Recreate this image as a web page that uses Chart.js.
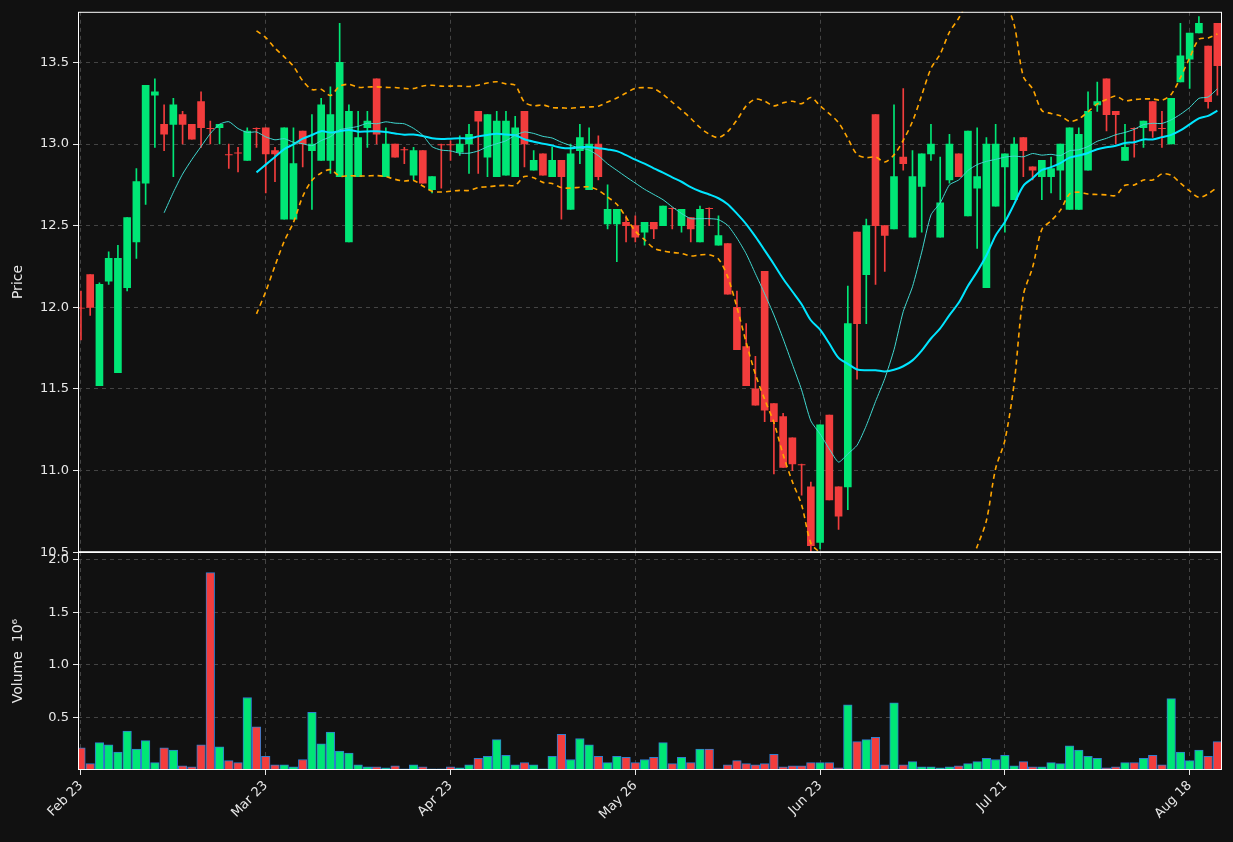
<!DOCTYPE html>
<html>
<head>
<meta charset="utf-8">
<script src="https://cdn.jsdelivr.net/npm/chart.js@4/dist/chart.umd.min.js"></script>
<style>
  html, body { margin: 0; padding: 0; background: #111111; overflow: hidden; }
  #wrap { position: relative; width: 1233px; height: 842px; }
</style>
</head>
<body>
<div id="wrap">
  <div style="position:absolute;left:0;top:0;width:1233px;height:564px"><canvas id="priceCanvas"></canvas></div>
  <div style="position:absolute;left:0;top:540px;width:1233px;height:302px"><canvas id="volCanvas"></canvas></div>
</div>
<script>
const tickIndex = [0, 20, 40, 60, 80, 100, 120];
const tickLabels = ['Feb 23', 'Mar 23', 'Apr 23', 'May 26', 'Jun 23', 'Jul 21', 'Aug 18'];

const opens = [12.00,12.20,11.52,12.16,11.60,12.12,12.40,12.76,13.30,13.12,13.12,13.18,13.12,13.26,13.10,13.10,12.94,12.95,12.90,13.10,
  13.10,12.96,12.54,12.54,13.08,12.96,12.90,12.90,12.80,12.40,12.80,13.10,13.40,12.80,13.00,12.97,12.81,12.96,12.72,13.00,
  13.00,12.95,13.00,13.20,12.92,12.80,12.81,12.80,13.20,12.84,12.94,12.80,12.90,12.60,12.96,12.72,13.00,12.51,12.51,12.52,
  12.50,12.46,12.52,12.50,12.61,12.50,12.55,12.40,12.61,12.38,12.39,12.00,11.76,11.50,12.22,11.41,11.33,11.20,11.04,10.90,
  10.56,11.34,10.90,10.90,12.46,12.20,13.18,12.50,12.48,12.92,12.43,12.74,12.94,12.43,12.78,12.94,12.56,12.73,12.12,12.62,
  12.86,12.66,13.04,12.86,12.80,12.80,12.84,12.60,12.60,12.84,13.24,13.40,13.20,12.90,13.10,13.10,13.26,13.10,13.00,13.38,
  13.52,13.68,13.60,13.74];
const highs = [12.10,12.20,12.15,12.34,12.38,12.55,12.85,13.36,13.40,13.24,13.28,13.20,13.12,13.32,13.14,13.12,13.00,12.98,13.10,13.10,
  13.10,12.98,13.10,13.10,13.08,13.18,13.28,13.35,13.74,13.24,13.20,13.20,13.40,13.10,13.00,12.98,12.98,12.96,12.80,13.00,
  13.02,13.05,13.12,13.20,13.18,13.20,13.20,13.17,13.20,12.96,12.94,12.98,12.90,13.00,13.12,13.10,13.05,12.75,12.60,12.56,
  12.56,12.52,12.52,12.62,12.61,12.60,12.55,12.62,12.61,12.56,12.39,12.10,11.90,11.70,12.22,11.41,11.35,11.20,11.04,10.93,
  11.28,11.34,10.90,12.13,12.46,12.54,13.18,12.50,13.24,13.34,12.96,12.94,13.12,12.92,13.06,12.94,13.08,13.10,13.04,13.12,
  12.94,13.04,13.04,12.86,12.90,12.92,13.00,13.10,13.10,13.32,13.38,13.40,13.20,13.12,13.10,13.14,13.26,13.20,13.28,13.74,
  13.68,13.78,13.60,13.74];
const lows = [11.80,11.95,11.52,12.14,11.60,12.10,12.30,12.63,12.98,12.96,12.80,13.00,13.03,12.98,13.00,13.00,12.85,12.83,12.90,12.98,
  12.70,12.77,12.54,12.54,12.86,12.60,12.90,12.82,12.80,12.40,12.80,12.98,13.00,12.80,12.92,12.88,12.78,12.76,12.70,12.73,
  12.90,12.93,12.82,12.82,12.80,12.80,12.81,12.80,12.86,12.84,12.81,12.80,12.54,12.60,12.88,12.72,12.78,12.48,12.28,12.40,
  12.40,12.38,12.42,12.50,12.48,12.46,12.40,12.40,12.50,12.38,12.08,11.74,11.52,11.40,11.30,10.98,11.02,11.00,10.85,10.50,
  10.52,10.82,10.64,10.76,11.56,11.90,12.14,12.22,12.48,12.84,12.43,12.46,12.90,12.43,12.76,12.80,12.56,12.36,12.12,12.62,
  12.46,12.66,12.80,12.78,12.66,12.70,12.66,12.60,12.60,12.84,13.20,13.08,13.00,12.90,12.92,12.98,13.04,12.98,13.00,13.38,
  13.34,13.68,13.22,13.30];
const closes = [11.99,12.00,12.14,12.30,12.30,12.55,12.77,13.36,13.32,13.06,13.24,13.12,13.03,13.10,13.09,13.12,12.93,12.94,13.08,13.09,
  12.94,12.94,13.10,12.88,13.00,13.00,13.24,13.18,13.50,13.20,13.04,13.14,13.06,13.00,12.92,12.96,12.96,12.76,12.80,12.99,
  12.99,13.00,13.06,13.14,13.18,13.14,13.14,13.10,13.00,12.90,12.81,12.90,12.80,12.94,13.04,13.00,12.80,12.60,12.60,12.50,
  12.43,12.52,12.48,12.62,12.60,12.60,12.48,12.60,12.60,12.44,12.08,11.74,11.52,11.40,11.37,11.30,11.02,11.04,11.03,10.54,
  11.28,10.82,10.72,11.90,11.90,12.50,12.50,12.44,12.80,12.88,12.80,12.94,13.00,12.64,13.00,12.80,13.08,12.80,13.00,13.00,
  12.94,13.00,12.96,12.84,12.90,12.85,13.00,13.10,13.06,13.20,13.26,13.18,13.18,12.98,13.09,13.14,13.08,13.09,13.28,13.54,
  13.68,13.74,13.26,13.48];
const volumes = [0.21,0.06,0.26,0.24,0.17,0.37,0.20,0.28,0.07,0.21,0.19,0.04,0.03,0.24,1.88,0.22,0.09,0.07,0.69,0.41,
  0.13,0.05,0.05,0.03,0.10,0.55,0.25,0.36,0.18,0.16,0.05,0.03,0.03,0.02,0.04,0.01,0.05,0.03,0.01,0.01,
  0.03,0.02,0.05,0.11,0.13,0.29,0.14,0.05,0.07,0.05,0.01,0.13,0.34,0.10,0.30,0.24,0.13,0.07,0.13,0.12,
  0.07,0.10,0.12,0.26,0.06,0.12,0.07,0.20,0.20,0.01,0.05,0.09,0.06,0.05,0.06,0.15,0.03,0.04,0.04,0.07,
  0.07,0.07,0.02,0.62,0.27,0.29,0.31,0.05,0.64,0.05,0.08,0.03,0.03,0.02,0.03,0.04,0.06,0.08,0.11,0.10,
  0.14,0.04,0.08,0.03,0.03,0.07,0.06,0.23,0.19,0.13,0.11,0.02,0.03,0.07,0.07,0.11,0.14,0.05,0.68,0.17,
  0.09,0.19,0.13,0.27];

const UP = '#00e676', DOWN = '#f23d3d';
const GRID = '#444444';
const FONT = { family: 'DejaVu Sans', size: 13 };
const X_MIN = -0.32, X_MAX = 123.5;

function sma(arr, n, i) {
    let s = 0;
    for (let k = i - n + 1; k <= i; k++) s += arr[k];
    return s / n;
}

const ma10 = [], ma20 = [], bbUp = [], bbLo = [];
closes.forEach((c, i) => {
    if (i >= 9) ma10.push({ x: i, y: sma(closes, 10, i) });
    if (i >= 19) {
        const m = sma(closes, 20, i);
        let v = 0;
        for (let k = i - 19; k <= i; k++) v += (closes[k] - m) ** 2;
        const sd = Math.sqrt(v / 20);
        ma20.push({ x: i, y: m });
        bbUp.push({ x: i, y: m + 2 * sd });
        bbLo.push({ x: i, y: m - 2 * sd });
    }
});

const colors = closes.map((c, i) => c >= opens[i] ? UP : DOWN);
const bodies = opens.map((o, i) => {
    let a = o, b = closes[i];
    if (Math.abs(a - b) < 0.012) { a -= 0.006; b += 0.006; }
    return { x: i, y: [a, b] };
});
const wicks = lows.map((l, i) => ({ x: i, y: [l, highs[i]] }));

const frame = {
    id: 'frame',
    afterDraw(chart) {
        const { ctx, chartArea: a } = chart;
        ctx.save();
        ctx.strokeStyle = '#ffffff';
        ctx.lineWidth = 1;
        ctx.strokeRect(a.left + 0.5, a.top + 0.5, a.right - a.left - 1, a.bottom - a.top - 1);
        ctx.restore();
    }
};

Chart.defaults.color = '#e8e8e8';
Chart.defaults.font = FONT;
Chart.defaults.animation = false;

function xScale(showTicks) {
    return {
        type: 'linear', min: X_MIN, max: X_MAX, offset: false,
        afterBuildTicks: s => { s.ticks = tickIndex.map(v => ({ value: v })); },
        afterFit: s => { s.height = showTicks ? 72 : 0; },
        grid: { offset: false, color: GRID, drawTicks: showTicks, tickLength: 5, tickColor: '#e8e8e8' },
        border: { display: false, dash: [4, 4] },
        ticks: {
            display: showTicks, maxRotation: 45, minRotation: 45, autoSkip: false,
            callback: v => tickLabels[tickIndex.indexOf(v)] || ''
        }
    };
}

function yTitle(text) {
    return { display: true, text: text, font: { family: 'DejaVu Sans', size: 14 }, padding: { top: 10, bottom: 4 } };
}

new Chart(document.getElementById('priceCanvas'), {
    data: {
        datasets: [
            { type: 'line', data: bbUp, borderColor: '#ffa500', borderWidth: 1.6, borderDash: [5, 4], pointRadius: 0, tension: 0.3 },
            { type: 'line', data: bbLo, borderColor: '#ffa500', borderWidth: 1.6, borderDash: [5, 4], pointRadius: 0, tension: 0.3 },
            { type: 'line', data: ma10, borderColor: '#40d8d0', borderWidth: 1, pointRadius: 0, tension: 0.2 },
            { type: 'line', data: ma20, borderColor: '#00e5ff', borderWidth: 2, pointRadius: 0, tension: 0.3 },
            { type: 'bar', data: wicks, backgroundColor: colors, barThickness: 1, grouped: false },
            { type: 'bar', data: bodies, backgroundColor: colors, barThickness: 7, grouped: false }
        ]
    },
    options: {
        responsive: true, maintainAspectRatio: false,
        layout: { padding: { top: 11, right: 11, left: 0, bottom: 0 } },
        plugins: { legend: { display: false }, tooltip: { enabled: false } },
        scales: {
            x: xScale(false),
            y: {
                min: 10.5, max: 13.81,
                afterBuildTicks: s => { s.ticks = [10.5, 11, 11.5, 12, 12.5, 13, 13.5].map(v => ({ value: v })); },
                afterFit: s => { s.width = 78; },
                grid: { color: GRID, drawTicks: true, tickLength: 5, tickColor: '#e8e8e8' },
                border: { display: false, dash: [4, 4] },
                ticks: { callback: v => v.toFixed(1), padding: 4 },
                title: yTitle('Price')
            }
        }
    },
    plugins: [frame]
});

new Chart(document.getElementById('volCanvas'), {
    type: 'bar',
    data: {
        datasets: [{
            data: volumes.map((v, i) => ({ x: i, y: v })),
            backgroundColor: colors, borderColor: '#2f7fd0', borderWidth: 1, barThickness: 8.6
        }]
    },
    options: {
        responsive: true, maintainAspectRatio: false,
        layout: { padding: { top: 12, right: 11, left: 0, bottom: 0 } },
        plugins: { legend: { display: false }, tooltip: { enabled: false } },
        scales: {
            x: xScale(true),
            y: {
                min: 0, max: 2.076,
                afterBuildTicks: s => { s.ticks = [0.5, 1, 1.5, 2].map(v => ({ value: v })); },
                afterFit: s => { s.width = 78; },
                grid: { color: GRID, drawTicks: true, tickLength: 5, tickColor: '#e8e8e8' },
                border: { display: false, dash: [4, 4] },
                ticks: { callback: v => v.toFixed(1), padding: 4 },
                title: yTitle('Volume  10⁶')
            }
        }
    },
    plugins: [frame]
});
</script>
</body>
</html>
